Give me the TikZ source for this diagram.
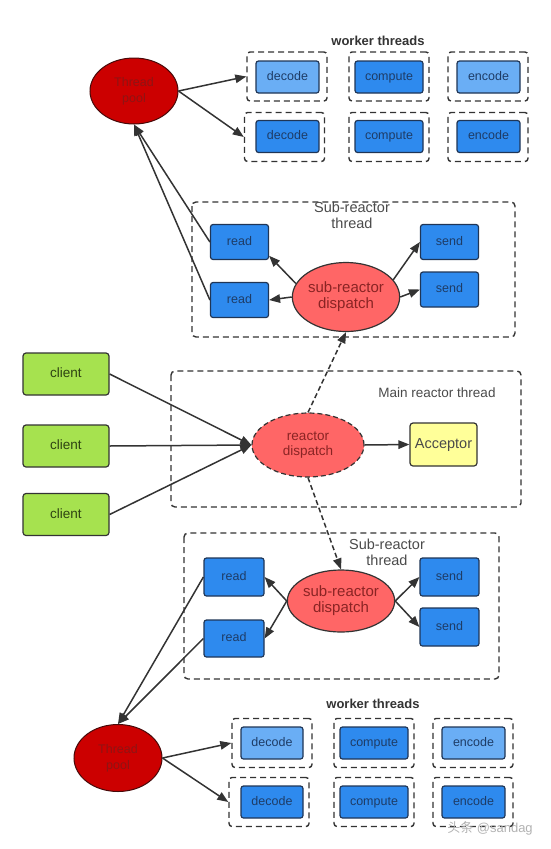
\documentclass[tikz,border=0pt]{standalone}
\usepackage{fontspec}
\setmainfont{Liberation Sans}
\newfontfamily\cjkfont{Noto Sans CJK SC}
\usepackage{xcolor}
\usetikzlibrary{arrows.meta,shapes.geometric}
\definecolor{lineC}{HTML}{333333}
\definecolor{taskL}{HTML}{6AAEF5}
\definecolor{taskD}{HTML}{2E8AEE}
\definecolor{taskB}{HTML}{1F3556}
\definecolor{taskT}{HTML}{1E3C66}
\definecolor{clientF}{HTML}{A6E24F}
\definecolor{clientT}{HTML}{2E4312}
\definecolor{accF}{HTML}{FFFF99}
\definecolor{dispF}{HTML}{FF6666}
\definecolor{dispT}{HTML}{8A2424}
\definecolor{poolF}{HTML}{CC0000}
\definecolor{poolT}{HTML}{8E1414}
\definecolor{labelT}{HTML}{4A4A4A}

\begin{document}
\begin{tikzpicture}[x=1pt,y=-1pt,
    arr/.style={draw=lineC,line width=1.5pt,-{Triangle[length=11pt,width=8.5pt]}},
    darr/.style={arr,dash pattern=on 5pt off 3pt},
    wbox/.style={draw=lineC,line width=1.4pt,dash pattern=on 6pt off 4pt,rounded corners=3pt,
        minimum width=80pt,minimum height=49pt,inner sep=0pt},
    grp/.style={draw=lineC,line width=1.4pt,dash pattern=on 6pt off 4pt,rounded corners=4pt},
    task/.style={draw=taskB,line width=1.2pt,rounded corners=2.5pt,minimum width=63pt,
        minimum height=32pt,inner sep=0pt,text=taskT,text height=9pt,text depth=2.5pt,
        font=\fontsize{12.5}{14}\selectfont},
    rdbox/.style={task,fill=taskD,minimum width=58pt,minimum height=35pt},
    client/.style={draw=lineC,line width=1.2pt,rounded corners=3pt,fill=clientF,text=clientT,
        minimum width=86pt,minimum height=42pt,inner sep=0pt,text height=10pt,text depth=3pt,
        font=\fontsize{13.5}{16}\selectfont},
    pool/.style={ellipse,draw=poolT!50!black,line width=1pt,fill=poolF,text=poolT,inner sep=0pt,
        minimum width=88pt,minimum height=66pt,align=center,font=\fontsize{12.5}{16}\selectfont},
    disp/.style={ellipse,draw=lineC,line width=1.2pt,fill=dispF,text=dispT,inner sep=0pt,
        align=center,font=\fontsize{15}{16}\selectfont},
    glabel/.style={text=labelT,align=center,font=\fontsize{14.5}{16}\selectfont},
    wlabel/.style={text=lineC,font=\bfseries\fontsize{13}{15}\selectfont}
]
\useasboundingbox (0,0) rectangle (550,849);

% Top thread pool and worker threads
\node[pool] (poolA) at (134,91) {Thread\\pool};
\node[wlabel] (wlA) at (378,41) {worker threads};
\node[wbox] (wbA11) at (287,76.5) {};
\node[wbox] (wbA12) at (389,76.5) {};
\node[wbox] (wbA13) at (488,76.5) {};
\node[wbox] (wbA21) at (284.5,137) {};
\node[wbox] (wbA22) at (389,137) {};
\node[wbox] (wbA23) at (488,137) {};
\node[task,fill=taskL] (decA1) at (287.5,77) {decode};
\node[task,fill=taskD,minimum width=68pt] (comA1) at (389,77) {compute};
\node[task,fill=taskL] (encA1) at (488.5,77) {encode};
\node[task,fill=taskD] (decA2) at (287.5,136.5) {decode};
\node[task,fill=taskD,minimum width=68pt] (comA2) at (389,136.5) {compute};
\node[task,fill=taskD] (encA2) at (488.5,136.5) {encode};
\draw[arr] (poolA.east) -- (wbA11.west);
\draw[arr] (poolA.east) -- (wbA21.west);

% Upper sub-reactor
\draw[grp] (192,202) rectangle (515,337);
\node[glabel] (subA) at (352,215) {Sub-reactor\\thread};
\node[rdbox] (rdA1) at (239.5,242) {read};
\node[rdbox] (rdA2) at (239.5,300) {read};
\node[rdbox] (sdA1) at (449.5,242) {send};
\node[rdbox] (sdA2) at (449.5,289.5) {send};
\node[disp,minimum width=104pt,minimum height=69pt] (dispA) at (346,297) {sub-reactor\\dispatch};
\draw[arr] (dispA.165) -- (rdA1.-25);
\draw[arr] (dispA.west) -- (rdA2.east);
\draw[arr] (dispA.20) -- (sdA1.west);
\draw[arr] (dispA.east) -- (sdA2.west);
\draw[arr] (rdA1.west) -- (poolA.south);
\draw[arr] (rdA2.west) -- (poolA.south);

% Main reactor
\draw[grp] (171,371) rectangle (521,507);
\node[glabel,font=\fontsize{13.5}{16}\selectfont] (mainL) at (437,393) {Main reactor thread};
\node[client] (clA) at (66,374) {client};
\node[client] (clB) at (66,446) {client};
\node[client] (clC) at (66,514.5) {client};
\node[disp,dash pattern=on 5pt off 3pt,minimum width=112pt,minimum height=64pt,
    font=\fontsize{13.5}{15}\selectfont] (mdisp) at (308,445) {reactor\\dispatch};
\node[client,fill=accF,draw=lineC,text=labelT,minimum width=67pt,minimum height=43pt,
    font=\fontsize{14.5}{16}\selectfont] (acc) at (443.5,444.5) {Acceptor};
\draw[arr] (clA.east) -- (mdisp.west);
\draw[arr] (clB.east) -- (mdisp.west);
\draw[arr] (clC.east) -- (mdisp.west);
\draw[arr] (mdisp.east) -- (acc.west);
\draw[darr] (mdisp.north) -- (dispA.south);

% Lower sub-reactor
\draw[grp] (184,533) rectangle (499,679);
\node[glabel] (subB) at (387,552) {Sub-reactor\\thread};
\node[rdbox,minimum width=60pt,minimum height=38pt] (rdB1) at (234,577) {read};
\node[rdbox,minimum width=60pt,minimum height=37pt] (rdB2) at (234,638.5) {read};
\node[rdbox,minimum width=59pt,minimum height=38pt] (sdB1) at (449.5,577) {send};
\node[rdbox,minimum width=59pt,minimum height=38pt] (sdB2) at (449.5,627) {send};
\node[disp,minimum width=107pt,minimum height=62pt] (dispB) at (341,601) {sub-reactor\\dispatch};
\draw[darr] (mdisp.south) -- (dispB.north);
\draw[arr] (dispB.west) -- (rdB1.east);
\draw[arr] (dispB.west) -- (rdB2.east);
\draw[arr] (dispB.east) -- (sdB1.west);
\draw[arr] (dispB.east) -- (sdB2.west);

% Bottom thread pool and worker threads
\node[pool,minimum height=67pt] (poolB) at (118,758) {Thread\\pool};
\draw[arr] (rdB1.west) -- (poolB.north);
\draw[arr] (rdB2.west) -- (poolB.north);
\node[wlabel] (wlB) at (373,704) {worker threads};
\node[wbox] (wbB11) at (272,743) {};
\node[wbox] (wbB12) at (374,743) {};
\node[wbox] (wbB13) at (473,743) {};
\node[wbox] (wbB21) at (269,802) {};
\node[wbox] (wbB22) at (374,802) {};
\node[wbox] (wbB23) at (473,802) {};
\node[task,fill=taskL,minimum width=62pt] (decB1) at (272,743) {decode};
\node[task,fill=taskD,minimum width=68pt] (comB1) at (374,743) {compute};
\node[task,fill=taskL] (encB1) at (473.5,743) {encode};
\node[task,fill=taskD,minimum width=62pt] (decB2) at (272,802) {decode};
\node[task,fill=taskD,minimum width=68pt] (comB2) at (374,802) {compute};
\node[task,fill=taskD] (encB2) at (473.5,802) {encode};
\draw[arr] (poolB.east) -- (wbB11.west);
\draw[arr] (poolB.east) -- (wbB21.west);

\node[text=gray!60,font=\fontsize{13}{15}\selectfont] (mark) at (490,828) {{\cjkfont 头条} @sandag};
\end{tikzpicture}
\end{document}
